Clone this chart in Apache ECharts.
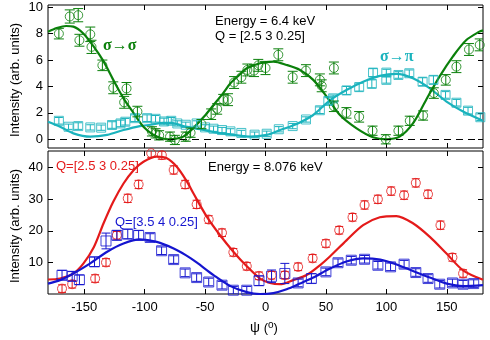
<!DOCTYPE html>
<html><head><meta charset="utf-8">
<script src="https://cdn.jsdelivr.net/npm/echarts@6/dist/echarts.min.js"></script>
<style>html,body{margin:0;padding:0;background:#fff}#c{width:490px;height:340px}</style>
</head><body><div id="c"></div>
<script>
// ---------- data ----------
const psiTicks = [-150,-100,-50,0,50,100,150];
const topTicks = [0,2,4,6,8,10];
const botTicks = [10,20,30,40];

// Energy 6.4 keV, sigma->sigma (green circles)
const psiSS = [-171,-162,-155,-154,-145,-144,-135,-126,-117,-115,-106,-94,-91,-88,-79,-75,-66,-62,-53,-45,-40,-35,-31,-26,-20,-15,-9.5,-6,0,10.6,22.5,33.5,45,46.5,56.6,56.6,67,77.5,88.6,99.6,110,119.4,130.4,139.3,149.2,158,168.4,177.3];
const valSS = [8.0,9.3,9.4,7.5,7.95,7.0,5.6,3.9,2.8,3.85,2.1,0.6,0.45,0.3,0.2,-0.05,0.2,0.5,1.15,1.9,2.3,3.0,3.0,4.3,4.7,5.25,5.2,5.6,5.4,6.4,4.7,5.2,4.5,4.05,5.4,2.5,2.0,1.7,0.65,0.0,0.65,1.4,1.8,3.5,4.5,5.5,6.8,7.15];
const errSS = [0.4,0.5,0.5,0.45,0.55,0.5,0.4,0.45,0.45,0.45,0.4,0.35,0.35,0.35,0.35,0.35,0.35,0.35,0.35,0.4,0.4,0.4,0.45,0.45,0.45,0.45,0.45,0.45,0.5,0.45,0.45,0.45,0.45,0.45,0.45,0.4,0.4,0.4,0.35,0.35,0.35,0.35,0.35,0.4,0.4,0.45,0.45,0.45];
// sigma->pi (cyan squares)
const psiSP = [-171,-163,-155,-145,-136,-127,-120,-116,-108,-98,-91,-84,-78,-73,-66,-57,-50,-43,-36,-29,-20,-9,1,11,22.5,33.5,45,52,56,67,77.5,88,89,100,100,110,119,130,139,149,158,167.6,177.8];
const valSP = [1.4,0.95,1.0,0.9,0.88,1.08,1.2,1.33,1.6,1.6,1.55,1.35,1.4,1.2,1.1,1.2,0.9,0.8,0.7,0.6,0.48,0.35,0.42,0.76,1.0,1.5,2.2,2.9,3.1,3.7,3.95,4.2,5.05,5.05,4.5,4.87,5.0,4.36,4.5,3.36,2.77,2.17,1.67];
const errSP = [0.25,0.2,0.25,0.2,0.2,0.25,0.25,0.25,0.25,0.25,0.25,0.25,0.25,0.2,0.2,0.2,0.2,0.2,0.2,0.2,0.2,0.2,0.2,0.2,0.2,0.2,0.25,0.25,0.25,0.3,0.3,0.3,0.3,0.25,0.25,0.25,0.25,0.3,0.3,0.25,0.25,0.25,0.25];
// fit curves (top)
const fitSSpsi = [-180,-172,-165,-159,-151,-142,-134,-126,-117.5,-109,-101,-93,-86,-80,-74,-68,-60,-51,-43,-35,-29,-22,-15.5,-4.5,6.5,17.5,28.5,39.5,50.6,61.6,75.4,89,100,111,122,133,144,155,166,177,180];
const fitSSval = [8.15,8.45,8.58,8.53,8.03,7.0,5.9,4.5,3.1,1.97,0.95,0.35,0.08,0.0,0.05,0.2,0.83,1.7,2.6,3.5,4.24,4.85,5.38,5.76,5.88,5.63,5.25,4.5,3.23,1.84,0.83,0.15,0.0,0.2,1.2,3.0,4.75,6.26,7.5,8.15,8.25];
const fitSPpsi = [-180,-170,-159,-145,-131,-117.5,-104,-95,-85,-78,-68,-54,-40,-26.6,-12.8,1,12,25.8,39.5,53.3,67,80.8,94.6,108.4,122,136,149.8,163.5,180];
const fitSPval = [1.33,0.95,0.45,0.2,0.33,0.7,1.0,1.1,1.24,1.25,1.0,0.76,0.5,0.33,0.2,0.33,0.7,1.16,1.84,2.95,3.73,4.36,4.8,4.95,4.62,3.86,2.85,2.1,1.4];

// Energy 8.076 keV, Q=[2.5 3 0.25] (red circles)
const psiR = [-168.4,-160,-141,-132,-123,-114,-105,-94.6,-85.8,-76,-66.5,-57,-47,-36,-26.6,-15.5,-5.4,5,16,27,39,50,61,72,82,93,104,114.7,124.4,134.5,144.8,154.7,163.5];
const valR = [1.7,3.1,4.9,10.0,18.6,30.3,34.7,44.6,44.0,39.3,34.7,28.4,23.6,19.4,13.2,8.8,5.75,5.96,5.96,8.6,11.3,16.0,20.2,24.3,28.2,30.0,32.6,31.3,35.2,31.6,21.8,11.6,6.5];
const errR = [1.2,1.2,1.2,1.2,1.2,1.3,1.3,1.3,1.3,1.3,1.3,1.3,1.2,1.2,1.2,1.2,1.2,1.2,1.2,1.2,1.2,1.2,1.2,1.2,1.3,1.3,1.3,1.3,1.3,1.3,1.3,1.2,1.2];
// Q=[3.5 4 0.25] (blue squares)
const psiB = [-168.4,-160,-154,-141.5,-132,-123,-114,-105,-95.5,-86,-76,-66.5,-57,-47,-36,-26.6,-15.5,-5.4,5,16,27,38,50,60,71,82,93,103.5,114.7,124.4,134.5,144.2,154.7,163.5,172.3];
const valB = [5.96,5.6,4.5,10.2,16.8,18.6,19.0,18.6,17.9,13.7,10.9,6.7,5.2,3.8,2.8,1.2,1.2,4.2,5.6,6.5,3.5,4.9,7.0,9.9,10.7,11.0,9.1,8.6,9.45,6.8,4.9,3.1,3.5,3.1,3.3];
const errB = [1.5,1.5,1.5,1.5,2.5,1.5,1.5,1.5,1.2,1.2,1.2,1.2,1.2,1.2,1.2,1.2,1.2,1.5,2.0,3.2,1.2,1.5,1.2,1.2,1.2,1.2,1.2,1.2,1.2,1.2,1.2,1.2,1.2,1.2,1.2];
// fit curves (bottom)
const fitRpsi = [-180,-170,-159,-150.6,-142,-134,-126,-117.5,-109,-101,-90,-81.7,-73.4,-65,-59.7,-48.6,-37.6,-26.6,-15.5,-4.5,3.7,12,23,34,45,53.3,67,80.8,94.6,108.4,122,136,149.8,163.5,180];
const fitRval = [4.6,4.9,6.5,9.7,14.9,22.4,29.2,35,39.3,41.9,43.5,43,40.3,35.6,31.9,24.5,18.6,13.4,8.8,4.9,3.5,3.1,4.4,6,9.1,11.9,17,21.8,24.3,24.7,22.4,18.1,12.8,7.5,4.5];
const fitBpsi = [-180,-170,-159,-145,-131,-117.5,-104,-90,-76,-66,-57,-43,-29,-15.5,-4.5,6.5,17.5,28.5,39.5,53,67,81,95,108,122,136,150,163.5,180];
const fitBval = [3.3,4.4,6.5,9.7,13.4,16,17.3,16.5,14.4,12.3,10,6.0,2.5,0.6,0,0.3,1.5,3.3,5.2,8.0,10.3,11.3,10.9,9.45,7.3,5.2,3.3,2.5,2.8];

// ---------- chart ----------
const FONT = "'Liberation Sans', Arial, sans-serif";
const C = {green:'#0b800b', cyan:'#1ab3bd', red:'#e41a1a', blue:'#1515cf'};
const zip = (a,b)=>a.map((v,i)=>[v,b[i]]);
const zip3 = (a,b,c)=>a.map((v,i)=>[v,b[i],c[i]]);

function errBar(color, cap){
  return function(params, api){
    const x=api.value(0), y=api.value(1), e=api.value(2);
    const lo=api.coord([x,y-e]), hi=api.coord([x,y+e]);
    const st={stroke:color, lineWidth:1};
    return {type:'group', children:[
      {type:'line', shape:{x1:lo[0],y1:lo[1],x2:hi[0],y2:hi[1]}, style:st},
      {type:'line', shape:{x1:lo[0]-cap,y1:lo[1],x2:lo[0]+cap,y2:lo[1]}, style:st},
      {type:'line', shape:{x1:hi[0]-cap,y1:hi[1],x2:hi[0]+cap,y2:hi[1]}, style:st}
    ]};
  };
}
function xAx(grid, pos, labels){
  return {type:'value', gridIndex:grid, position:pos, min:-180, max:180,
    axisLine:{show:false, onZero:false}, splitLine:{show:false},
    axisTick:{show:true, inside:true, length:5, customValues:psiTicks, lineStyle:{color:'#000'}},
    axisLabel:{show:labels, customValues:psiTicks, margin:7, color:'#000', fontSize:13, fontFamily:FONT}};
}
function yAx(grid, pos, min, max, ticks, labels){
  return {type:'value', gridIndex:grid, position:pos, min:min, max:max,
    axisLine:{show:false, onZero:false}, splitLine:{show:false},
    axisTick:{show:true, inside:true, length:5, customValues:ticks, lineStyle:{color:'#000'}},
    axisLabel:{show:labels, customValues:ticks, margin:5, color:'#000', fontSize:13, fontFamily:FONT}};
}
function fitLine(xi, yi, px, py, color, extra){
  return Object.assign({type:'line', xAxisIndex:xi, yAxisIndex:yi, data:zip(px,py), smooth:0.3,
    symbol:'none', lineStyle:{color:color, width:2.2}, z:3, silent:true}, extra||{});
}
function pts(xi, yi, px, py, color, sym, size){
  return {type:'scatter', xAxisIndex:xi, yAxisIndex:yi, data:zip(px,py), symbol:sym, symbolSize:size,
    itemStyle:{color:'rgba(0,0,0,0)', borderColor:color, borderWidth:1}, z:4, silent:true};
}
function errs(xi, yi, px, py, pe, color, cap){
  return {type:'custom', xAxisIndex:xi, yAxisIndex:yi, data:zip3(px,py,pe), renderItem:errBar(color,cap), z:5, silent:true, clip:true};
}

const chart = echarts.init(document.getElementById('c'), null, {renderer:'canvas'});
chart.setOption({
  animation:false,
  backgroundColor:'#fff',
  grid:[
    {left:48, right:7, top:5, height:143, show:true, borderColor:'#000', borderWidth:1, backgroundColor:'transparent'},
    {left:48, right:7, top:151, height:143, show:true, borderColor:'#000', borderWidth:1, backgroundColor:'transparent'}
  ],
  xAxis:[ xAx(0,'bottom',false), xAx(0,'top',false), xAx(1,'bottom',true), xAx(1,'top',false) ],
  yAxis:[ yAx(0,'left',-0.66,10.17,topTicks,true), yAx(0,'right',-0.66,10.17,topTicks,false),
          yAx(1,'left',0,45.3,botTicks,true), yAx(1,'right',0,45.3,botTicks,false) ],
  series:[
    fitLine(0,0,fitSPpsi,fitSPval,C.cyan,{markLine:{silent:true, symbol:'none', label:{show:false},
      lineStyle:{color:'#000', type:[7,5], width:1}, data:[{yAxis:0}]}}),
    fitLine(0,0,fitSSpsi,fitSSval,C.green),
    pts(0,0,psiSP,valSP,C.cyan,'rect',9), errs(0,0,psiSP,valSP,errSP,C.cyan,4),
    pts(0,0,psiSS,valSS,C.green,'circle',9), errs(0,0,psiSS,valSS,errSS,C.green,5),
    fitLine(2,2,fitRpsi,fitRval,C.red),
    fitLine(2,2,fitBpsi,fitBval,C.blue),
    pts(2,2,psiR,valR,C.red,'circle',9), errs(2,2,psiR,valR,errR,C.red,4),
    pts(2,2,psiB,valB,C.blue,'rect',10), errs(2,2,psiB,valB,errB,C.blue,4.5)
  ],
  graphic:[
    {type:'text', x:215, y:21, style:{text:'Energy = 6.4 keV', font:'13px '+FONT, fill:'#000', verticalAlign:'middle'}},
    {type:'text', x:215, y:36, style:{text:'Q = [2.5 3 0.25]', font:'13px '+FONT, fill:'#000', verticalAlign:'middle'}},
    {type:'text', x:103, y:46, style:{text:'σ→σ', font:'bold 16px "Liberation Serif", serif', fill:C.green, verticalAlign:'middle'}},
    {type:'text', x:380, y:57, style:{text:'σ→π', font:'bold 16px "Liberation Serif", serif', fill:C.cyan, verticalAlign:'middle'}},
    {type:'text', x:208, y:167, style:{text:'Energy = 8.076 keV', font:'13px '+FONT, fill:'#000', verticalAlign:'middle'}},
    {type:'text', x:56, y:166, style:{text:'Q=[2.5 3 0.25]', font:'13px '+FONT, fill:C.red, verticalAlign:'middle'}},
    {type:'text', x:115, y:222, style:{text:'Q=[3.5 4 0.25]', font:'13px '+FONT, fill:C.blue, verticalAlign:'middle'}},
    {type:'text', x:15, y:80, rotation:Math.PI/2, style:{text:'Intensity (arb. units)', font:'13px '+FONT, fill:'#000', align:'center', verticalAlign:'middle'}},
    {type:'text', x:15, y:226, rotation:Math.PI/2, style:{text:'Intensity (arb. units)', font:'13px '+FONT, fill:'#000', align:'center', verticalAlign:'middle'}},
    {type:'text', x:264, y:328, style:{text:'{p|ψ} ({s|o})', align:'center', verticalAlign:'middle', fill:'#000',
      rich:{p:{font:'14px '+FONT, fill:'#000'}, s:{font:'10px '+FONT, fill:'#000', verticalAlign:'top', padding:[0,0,6,0]}}, font:'13px '+FONT}}
  ]
});
</script></body></html>
